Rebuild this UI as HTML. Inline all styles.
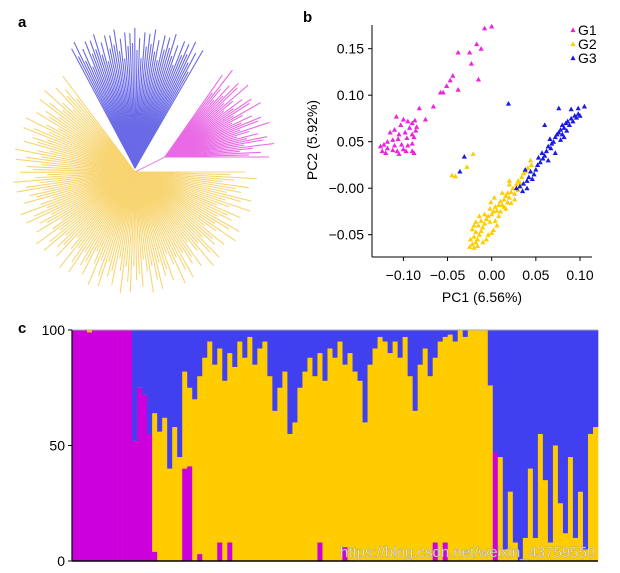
<!DOCTYPE html>
<html><head><meta charset="utf-8">
<style>
body{margin:0;background:#fff;font-family:"Liberation Sans",sans-serif;}
svg{display:block}
text{font-family:"Liberation Sans",sans-serif;}
</style></head>
<body>
<svg id="fig" width="620" height="573" viewBox="0 0 620 573">
<text x="18" y="27" font-size="15" font-weight="bold">a</text>
<text x="303" y="22" font-size="15" font-weight="bold">b</text>
<text x="18" y="333" font-size="15" font-weight="bold">c</text>
<g id="tree"></g>
<g id="scatter"></g>
<g id="bars"></g>
</svg>
<script>
const NS="http://www.w3.org/2000/svg";
function mk(tag,attrs,parent){const e=document.createElementNS(NS,tag);for(const k in attrs)e.setAttribute(k,attrs[k]);parent.appendChild(e);return e;}

/* ---------- Tree (panel a) ---------- */
const cladeNames=["G2","G3","G1"];
const cladeStart=[0,-118,-55];
const cladeEnd=[233,-60,0];
const cladeCount=[150,55,40];
const cladeLen=[[110,95,122,100,88,115,102,108,94,120],[135,125,140,118,130,110,136,122],[100,80,110,88,75,96,84,104]];
const cladeColor=["#f8d572","#6a6ae6","#ea6ae6"];
const cladeNodeX=[135,135,165];
const cladeNodeY=[172,168,157];
const tree=document.getElementById('tree');
mk('line',{x1:135,y1:172,x2:165,y2:157,stroke:"#ea8aea","stroke-width":1},tree);
for(let c=0;c<3;c++){
  const g=mk('g',{},tree);
  
  
  for(let i=0;i<cladeCount[c];i++){
    const a=(cladeStart[c]+(cladeEnd[c]-cladeStart[c])*i/(cladeCount[c]-1))*Math.PI/180;
    const L=cladeLen[c][i%cladeLen[c].length];
    const ln=mk('line',{x1:cladeNodeX[c],y1:cladeNodeY[c],x2:cladeNodeX[c]+L*Math.cos(a),y2:cladeNodeY[c]+L*Math.sin(a),stroke:cladeColor[c],"stroke-width":1.1},g);
    
    
  }
}

/* ---------- Scatter (panel b) ---------- */
const xTicks=[-0.10,-0.05,0.00,0.05,0.10];
const xTickLabels=["\u22120.10","\u22120.05","0.00","0.05","0.10"];
const yTicks=[-0.05,0.00,0.05,0.10,0.15];
const yTickLabels=["\u22120.05","\u22120.00","0.05","0.10","0.15"];
const g1x=[-0.008,0.0,-0.017,-0.012,-0.025,-0.038,-0.023,-0.015,-0.044,-0.047,-0.051,-0.038,-0.055,-0.058,-0.066,-0.082,-0.075,-0.108,-0.100,-0.095,-0.090,-0.087,-0.085,-0.093,-0.103,-0.110,-0.115,-0.105,-0.098,-0.090,-0.086,-0.088,-0.096,-0.106,-0.112,-0.118,-0.122,-0.126,-0.124,-0.118,-0.110,-0.102,-0.095,-0.090,-0.100,-0.107,-0.112,-0.097,-0.090,-0.088,-0.105,-0.120];
const g1y=[0.172,0.174,0.155,0.150,0.146,0.146,0.134,0.117,0.121,0.116,0.110,0.106,0.103,0.103,0.088,0.086,0.074,0.077,0.074,0.072,0.070,0.073,0.066,0.065,0.068,0.063,0.060,0.058,0.060,0.058,0.062,0.055,0.054,0.053,0.052,0.050,0.047,0.045,0.040,0.043,0.046,0.047,0.046,0.048,0.042,0.040,0.041,0.040,0.040,0.038,0.037,0.038];
const g2x=[-0.045,-0.041,-0.028,-0.021,0.044,0.045,0.020,-0.025,-0.022,-0.020,-0.018,-0.024,-0.020,-0.016,-0.014,-0.018,-0.022,-0.012,-0.010,-0.015,-0.008,-0.012,-0.006,-0.002,-0.004,0.000,-0.008,0.002,-0.002,0.004,0.006,0.008,0.010,0.012,0.014,0.016,0.018,0.020,0.022,0.024,0.026,0.028,0.030,0.032,0.034,0.036,0.038,0.041,0.020,0.014,0.006,0.002,-0.004,-0.010,-0.016,-0.006,0.000,0.004,0.008,0.010,-0.014,-0.018,-0.020,0.016,0.018,0.012,0.026,0.003,-0.001,0.030,0.022];
const g2y=[0.014,0.013,0.023,0.037,0.030,0.025,0.008,-0.063,-0.060,-0.064,-0.058,-0.055,-0.052,-0.055,-0.050,-0.047,-0.044,-0.046,-0.042,-0.040,-0.038,-0.035,-0.033,-0.036,-0.030,-0.028,-0.028,-0.025,-0.022,-0.020,-0.024,-0.018,-0.014,-0.018,-0.012,-0.008,-0.005,-0.010,-0.004,0.000,-0.006,0.004,0.008,0.006,0.012,0.016,0.018,0.022,0.004,-0.020,-0.040,-0.045,-0.050,-0.058,-0.062,-0.055,-0.048,-0.035,-0.030,-0.025,-0.030,-0.036,-0.040,-0.022,-0.015,-0.005,-0.012,-0.010,-0.015,-0.002,-0.016];
const g3x=[0.019,-0.036,-0.031,0.028,0.032,0.036,0.040,0.042,0.046,0.048,0.044,0.050,0.052,0.055,0.053,0.058,0.060,0.057,0.062,0.064,0.067,0.068,0.066,0.070,0.072,0.074,0.076,0.078,0.080,0.082,0.084,0.086,0.088,0.090,0.092,0.094,0.096,0.098,0.100,0.105,0.098,0.090,0.076,0.060,0.078,0.082,0.085,0.072,0.064,0.040,0.035,0.038,0.080];
const g3y=[0.091,0.018,0.034,0.000,0.002,0.005,0.008,0.012,0.010,0.015,0.018,0.020,0.025,0.028,0.033,0.032,0.035,0.038,0.040,0.045,0.043,0.048,0.053,0.050,0.055,0.058,0.060,0.063,0.068,0.065,0.070,0.072,0.068,0.075,0.072,0.078,0.076,0.080,0.078,0.088,0.086,0.085,0.086,0.068,0.052,0.055,0.062,0.038,0.030,0.000,-0.003,0.020,0.058];
const sx=v=>491.7+v*883;
const sy=v=>188.2-v*930;
const sc=document.getElementById('scatter');
mk('line',{x1:372,y1:25,x2:372,y2:257,stroke:"#000","stroke-width":1},sc);
mk('line',{x1:372,y1:257,x2:592,y2:257,stroke:"#000","stroke-width":1},sc);
xTicks.forEach((t,i)=>{
  const tk=mk('line',{x1:sx(t),y1:257,x2:sx(t),y2:261,stroke:"#000"},sc);
  
  const tx=mk('text',{x:sx(t),y:280,"font-size":14,"text-anchor":"middle"},sc);
  tx.textContent=xTickLabels[i];
  
  
});
yTicks.forEach((t,i)=>{
  const tk=mk('line',{x1:368,y1:sy(t),x2:372,y2:sy(t),stroke:"#000"},sc);
  
  const tx=mk('text',{x:364,y:sy(t)+5,"font-size":14,"text-anchor":"end"},sc);
  tx.textContent=yTickLabels[i];
  
  
});
const xt=mk('text',{x:482,y:302,"font-size":14,"text-anchor":"middle"},sc);xt.textContent="PC1 (6.56%)";


const yt=mk('text',{x:0,y:0,"font-size":14,"text-anchor":"middle",transform:"translate(317,140) rotate(-90)"},sc);yt.textContent="PC2 (5.92%)";


function tri(x,y,col,p){const s=2.6;const t=mk('polygon',{points:`${x},${y-s} ${x-s},${y+s*0.8} ${x+s},${y+s*0.8}`,fill:col},p);return t;}
const groups=[[g2x,g2y,"#ffcc00","g2"],[g1x,g1y,"#ee22dd","g1"],[g3x,g3y,"#1a1ae0","g3"]];
groups.forEach(g=>{g[0].forEach((v,i)=>{const t=tri(sx(v),sy(g[1][i]),g[2],sc);
  
  });});
const legNames=["G1","G2","G3"],legCols=["#ee22dd","#ffcc00","#1a1ae0"];
legNames.forEach((n,i)=>{
  const lg=mk('g',{},sc);
  
  
  tri(573,30+i*14,legCols[i],lg);
  const t=mk('text',{x:578,y:35+i*14,"font-size":14},lg);t.textContent=n;
});

/* ---------- Admixture bars (panel c) ---------- */
const barYTicks=[0,50,100];
const pctG1=[100,100,100,99,100,100,100,100,100,100,100,100,52,75,72,55,
 4,0,0,0,0,0,40,41,0,3,0,0,0,8,0,8,0,0,0,0,0,0,0,0,0,0,0,0,0,0,0,0,0,8,0,0,0,0,6,0,0,0,0,0,0,0,0,0,0,0,0,0,0,0,0,0,8,0,8,0,0,0,0,0,0,0,0,
 0,47,0,0,0,0,0,0,0,0,0,0,0,0,0,0,0,0,0,0,0,0];
const pctG3=[0,0,0,0,0,0,0,0,0,0,0,0,48,25,28,45,
 36,44,38,60,42,55,18,25,30,20,12,5,15,8,22,10,16,5,12,3,15,8,5,20,35,25,18,45,40,25,18,12,20,10,22,8,12,5,15,10,18,22,40,15,8,3,5,10,5,12,3,20,35,15,8,20,12,5,3,2,5,0,3,0,0,0,0,
 24,53,55,95,70,92,100,90,60,90,45,65,92,50,75,88,55,90,70,95,45,42];
const bx0=72,bx1=598,by0=561,by1=330;
const nB=pctG1.length,bw=(bx1-bx0)/nB;
const by=v=>by0-(by0-by1)*v/100;
const bars=document.getElementById('bars');
mk('rect',{x:bx0,y:by1,width:bx1-bx0,height:by0-by1,fill:"#ffcc00"},bars);
pctG1.forEach((g1,i)=>{
  const g3=pctG3[i];const x=bx0+i*bw;
  const r1=mk('rect',{x:x,y:by(g1),width:bw+0.3,height:by0-by(g1),fill:"#cc00dd"},bars);
  
  
  const r2=mk('rect',{x:x,y:by(g1+(100-g1-g3)),width:bw+0.3,height:by(g1)-by(100-g3),fill:"#ffcc00"},bars);
  
  
  const r3=mk('rect',{x:x,y:by1,width:bw+0.3,height:by(100-g3)-by1,fill:"#4040f0"},bars);
  
  
});
mk('line',{x1:bx0,y1:by1,x2:bx1,y2:by1,stroke:"#aaa","stroke-width":1},bars);
mk('line',{x1:bx0,y1:by1,x2:bx0,y2:by0,stroke:"#000","stroke-width":1.2},bars);
mk('line',{x1:bx0,y1:by0,x2:bx1,y2:by0,stroke:"#000","stroke-width":1.5},bars);
barYTicks.forEach(t=>{
  mk('line',{x1:68,y1:by(t),x2:72,y2:by(t),stroke:"#000"},bars);
  const tx=mk('text',{x:65,y:by(t)+5,"font-size":14,"text-anchor":"end"},bars);tx.textContent=t;
  
  
});
const wm=mk('text',{x:340,y:557,"font-size":15,fill:"#ffffff","fill-opacity":0.75,stroke:"#999","stroke-width":0.4},bars);
wm.textContent="https://blog.csdn.net/weixin_43759550";


</script>
</body></html>
